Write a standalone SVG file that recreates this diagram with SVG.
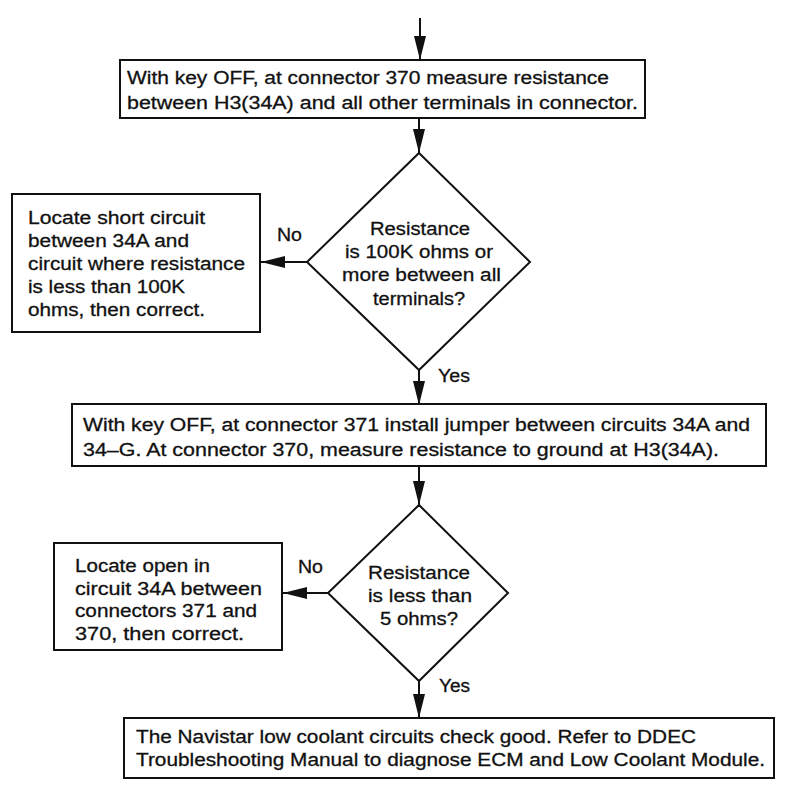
<svg xmlns="http://www.w3.org/2000/svg" width="800" height="796" viewBox="0 0 800 796">
<style>
.box{fill:#fff;stroke:#111;stroke-width:2}
.dia{fill:#fff;stroke:#111;stroke-width:2}
.t{font-family:"Liberation Sans",Arial,sans-serif;font-size:18px;fill:#111;stroke:#111;stroke-width:0.3}
.lbl{font-family:"Liberation Sans",Arial,sans-serif;font-size:18px;fill:#111;stroke:#111;stroke-width:0.3}
.c{fill:none;stroke:#111;stroke-width:2;marker-end:url(#ah)}
</style>
<defs>
<marker id="ah" markerUnits="userSpaceOnUse" markerWidth="24" markerHeight="12" refX="24" refY="6" orient="auto">
<path d="M0,0 L24,6 L0,12 Z" fill="#111"/>
</marker>
</defs>
<rect width="800" height="796" fill="#fff"/>
<g id="connectors">
<line class="c" x1="420" y1="18" x2="420" y2="60"/>
<line class="c" x1="419" y1="118" x2="419" y2="153"/>
<line class="c" x1="307" y1="262" x2="261" y2="262"/>
<line class="c" x1="419" y1="370" x2="419" y2="405"/>
<line class="c" x1="419" y1="466" x2="419" y2="505"/>
<line class="c" x1="328" y1="593" x2="283" y2="593"/>
<line class="c" x1="419" y1="681" x2="419" y2="718"/>
</g>
<g id="step1">
<rect class="box" x="120" y="60" width="525" height="58"/>
<text class="t" x="127" y="84" textLength="482" lengthAdjust="spacingAndGlyphs">With key OFF, at connector 370 measure resistance</text>
<text class="t" x="127" y="109" textLength="511" lengthAdjust="spacingAndGlyphs">between H3(34A) and all other terminals in connector.</text>
</g>
<g id="decision1">
<polygon class="dia" points="419,153 530,262 419,370 307,262"/>
<text class="t" x="370" y="235" textLength="100" lengthAdjust="spacingAndGlyphs">Resistance</text>
<text class="t" x="345" y="258" textLength="148" lengthAdjust="spacingAndGlyphs">is 100K ohms or</text>
<text class="t" x="342" y="281" textLength="159" lengthAdjust="spacingAndGlyphs">more between all</text>
<text class="t" x="373" y="305" textLength="92" lengthAdjust="spacingAndGlyphs">terminals?</text>
</g>
<g id="fix1">
<rect class="box" x="12" y="194" width="248" height="138"/>
<text class="t" x="28" y="224" textLength="177" lengthAdjust="spacingAndGlyphs">Locate short circuit</text>
<text class="t" x="28" y="247" textLength="161" lengthAdjust="spacingAndGlyphs">between 34A and</text>
<text class="t" x="28" y="270" textLength="217" lengthAdjust="spacingAndGlyphs">circuit where resistance</text>
<text class="t" x="28" y="293" textLength="157" lengthAdjust="spacingAndGlyphs">is less than 100K</text>
<text class="t" x="28" y="316" textLength="177" lengthAdjust="spacingAndGlyphs">ohms, then correct.</text>
</g>
<g id="labels1">
<text class="lbl" x="277" y="241" textLength="25" lengthAdjust="spacingAndGlyphs">No</text>
<text class="lbl" x="438" y="382" textLength="32" lengthAdjust="spacingAndGlyphs">Yes</text>
</g>
<g id="step2">
<rect class="box" x="72" y="404" width="694" height="62"/>
<text class="t" x="83" y="431" textLength="667" lengthAdjust="spacingAndGlyphs">With key OFF, at connector 371 install jumper between circuits 34A and</text>
<text class="t" x="83" y="456" textLength="636" lengthAdjust="spacingAndGlyphs">34–G. At connector 370, measure resistance to ground at H3(34A).</text>
</g>
<g id="decision2">
<polygon class="dia" points="419,505 508,593 419,681 328,593"/>
<text class="t" x="368" y="579" textLength="102" lengthAdjust="spacingAndGlyphs">Resistance</text>
<text class="t" x="368" y="602" textLength="104" lengthAdjust="spacingAndGlyphs">is less than</text>
<text class="t" x="380" y="625" textLength="78" lengthAdjust="spacingAndGlyphs">5 ohms?</text>
</g>
<g id="fix2">
<rect class="box" x="54" y="543" width="228" height="107"/>
<text class="t" x="75" y="572" textLength="135" lengthAdjust="spacingAndGlyphs">Locate open in</text>
<text class="t" x="75" y="595" textLength="187" lengthAdjust="spacingAndGlyphs">circuit 34A between</text>
<text class="t" x="75" y="617" textLength="182" lengthAdjust="spacingAndGlyphs">connectors 371 and</text>
<text class="t" x="75" y="640" textLength="169" lengthAdjust="spacingAndGlyphs">370, then correct.</text>
</g>
<g id="labels2">
<text class="lbl" x="298" y="573" textLength="25" lengthAdjust="spacingAndGlyphs">No</text>
<text class="lbl" x="439" y="692" textLength="31" lengthAdjust="spacingAndGlyphs">Yes</text>
</g>
<g id="result">
<rect class="box" x="124" y="718" width="650" height="60"/>
<text class="t" x="136" y="743" textLength="560" lengthAdjust="spacingAndGlyphs">The Navistar low coolant circuits check good. Refer to DDEC</text>
<text class="t" x="136" y="766" textLength="629" lengthAdjust="spacingAndGlyphs">Troubleshooting Manual to diagnose ECM and Low Coolant Module.</text>
</g>
</svg>
